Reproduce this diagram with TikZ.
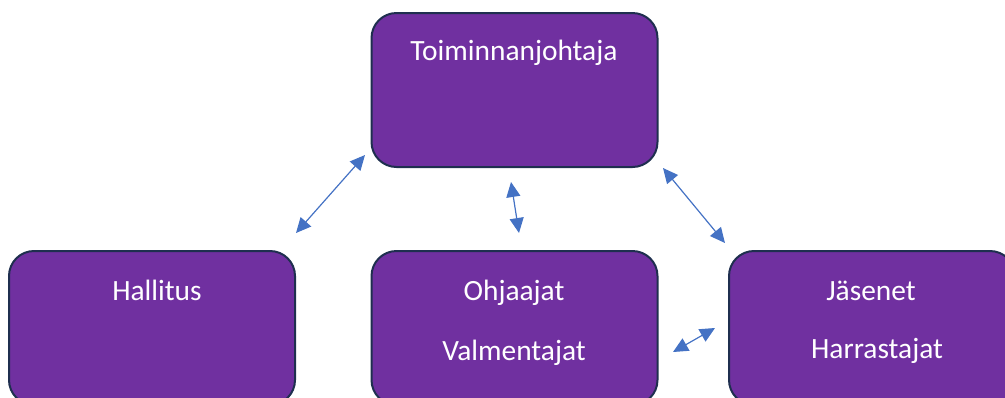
\documentclass[tikz,border=0pt]{standalone}
\usepackage{fontspec}
\setmainfont{Carlito}
\usetikzlibrary{arrows.meta}
\definecolor{boxfill}{HTML}{7030A0}
\definecolor{boxline}{HTML}{1F2F4F}
\definecolor{linkblue}{HTML}{4472C4}
\tikzset{
  orgbox/.style={draw=boxline, line width=1pt, fill=boxfill, rounded corners=12.5pt,
    minimum width=143pt, minimum height=77pt, inner sep=0pt},
  boxtext/.style={text=white, font=\fontsize{14.7}{17}\selectfont, anchor=base, inner sep=0pt},
  link/.style={linkblue, line width=0.6pt,
    {Triangle[length=7.5pt,width=7pt]}-{Triangle[length=7.5pt,width=7pt]}}
}
\begin{document}
\begin{tikzpicture}[x=0.5pt,y=-0.5pt]
  \useasboundingbox (0,0) rectangle (1005,397);

  \node[orgbox] (Johtaja) at (514.5,90) {};
  \node[orgbox] (Hallitus) at (152,328) {};
  \node[orgbox] (Ohjaajat) at (514.5,328) {};
  \node[orgbox] (Jasenet) at (872,328) {};

  \node[boxtext] (JohtajaName) at (514,60) {Toiminnanjohtaja};
  \node[boxtext] (HallitusName) at (157,300) {Hallitus};
  \node[boxtext] (OhjaajatName) at (514,300) {Ohjaajat};
  \node[boxtext] (ValmentajatName) at (514,360) {Valmentajat};
  \node[boxtext] (JasenetName) at (871,300) {Jäsenet};
  \node[boxtext] (HarrastajatName) at (877,358) {Harrastajat};

  \coordinate (a1) at (296,233);
  \coordinate (a2) at (365,155);
  \coordinate (b1) at (511,182);
  \coordinate (b2) at (519,233);
  \coordinate (c1) at (663,168);
  \coordinate (c2) at (725,243);
  \coordinate (d1) at (673,352);
  \coordinate (d2) at (715,328);
  \draw[link] (a1) -- (a2);
  \draw[link] (b1) -- (b2);
  \draw[link] (c1) -- (c2);
  \draw[link] (d1) -- (d2);
\end{tikzpicture}
\end{document}
